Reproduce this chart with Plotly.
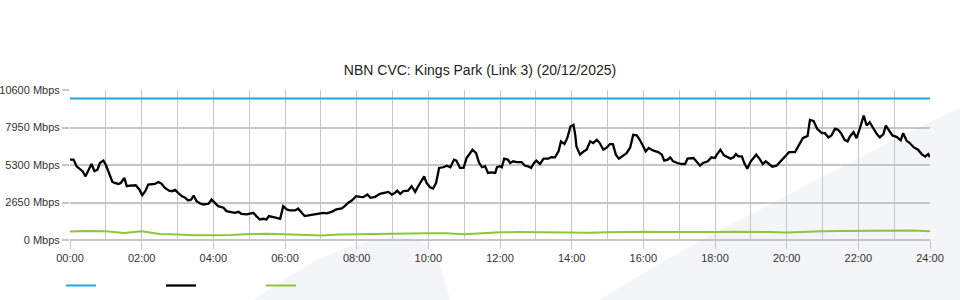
import plotly.graph_objects as go

# ---------------- data ----------------
title_text = "NBN CVC: Kings Park (Link 3) (20/12/2025)"

capacity_min = [0, 1440]
capacity_mbps = [10000, 10000]

black_min = [0, 6, 11, 17, 21, 26, 31, 36, 41, 46, 50, 56, 60, 64, 71, 75, 81, 85, 91, 95,
             100, 110, 116, 121, 126, 131, 138, 142, 148, 153, 159, 166, 171, 176, 181, 187,
             193, 198, 203, 207, 212, 218, 223, 232, 237, 243, 248, 257, 262, 268, 276, 282,
             287, 296, 301, 307, 312, 318, 324, 329, 333, 340, 346, 352,
             357, 363, 368, 377, 382, 388, 393, 402, 410, 419, 424, 430, 438, 446, 455, 460,
             466, 472, 479, 486, 491, 498, 503, 511, 519, 526, 533, 539, 544, 548, 553, 558,
             566, 572, 578, 583, 589, 593, 597, 603, 608, 613, 618, 625, 631, 637, 643, 647,
             653, 659, 664, 670, 674, 680, 685, 690, 695, 700, 706, 712, 715, 720,
             723, 727, 733, 737, 742, 748, 756, 762, 767, 772, 777, 781, 787, 793, 801, 806,
             812, 818, 822, 828, 833, 838, 843, 846, 848, 854, 860, 865, 871, 876, 882, 887,
             893, 899, 904, 909, 914, 919, 925, 932, 938, 943, 949, 954, 960, 964, 969, 977,
             985, 991, 995, 1001, 1005, 1010, 1017, 1024, 1030, 1034, 1044, 1049, 1055, 1060,
             1068, 1074, 1080,
             1083, 1089, 1095, 1101, 1106, 1111, 1115, 1119, 1125, 1129, 1134, 1140, 1149,
             1155, 1160, 1165, 1171, 1176, 1183, 1190, 1197, 1204, 1214, 1221, 1227, 1235,
             1239, 1245, 1251, 1259, 1264, 1270, 1275, 1281, 1286, 1291, 1297, 1302, 1306,
             1312, 1317, 1323, 1329, 1334, 1339, 1345, 1351, 1356, 1362, 1366, 1372, 1377,
             1384, 1391, 1395, 1401, 1406, 1413, 1420, 1426, 1432, 1437, 1440]

black_mbps = [5680, 5680, 5210, 4970, 4860, 4500, 4970, 5370, 4860, 4970, 5440, 5610, 5320, 4860,
              4100, 4030, 3960, 4030, 4390, 3800, 3850, 3870, 3570, 3170, 3450, 3920, 3920, 3960,
              4100, 3990, 3680, 3490, 3450, 3540, 3330, 3100, 2980, 2790, 2860, 3140, 2740, 2580,
              2510, 2560, 2860, 2630, 2390, 2280, 2040, 1990, 1920, 1990, 1850, 1810, 1850, 1920,
              1690, 1450, 1500, 1450, 1690, 1640, 1570, 1500,
              2390, 2160, 2090, 2090, 2230, 1920, 1690, 1760, 1810, 1850, 1920, 1880, 1990, 2160,
              2230, 2390, 2630, 2790, 3100, 3050, 3030, 3210, 2980, 3050, 3260, 3330, 3400, 3210,
              3330, 3490, 3260, 3450, 3490, 3800, 3400, 3800, 4270, 4500, 4030, 3730, 3640, 4030,
              5090, 5140, 5250, 5140, 5680, 5610, 5090, 5090, 5790, 6190, 6380, 6140, 5440, 5140,
              5210, 4740, 4780, 4740, 5140, 5210,
              5140, 5750, 5680, 5440, 5560, 5510, 5510, 5250, 5210, 5090, 5440, 5610, 5370, 5750,
              5750, 5860, 5840, 6260, 6970, 6780, 7250, 8020, 8140, 7430, 6610, 6030, 6260, 6380,
              6970, 6850, 7080, 6850, 6380, 6540, 6780, 6780, 6030, 5750, 5910, 6140, 6540, 7430,
              7390, 7080, 6610, 6260, 6500, 6310, 6210, 6030, 5610, 5680, 5840, 5560, 5440, 5370,
              5370, 5750, 5790, 5560, 5250, 5440, 5560, 5840, 5790,
              6030, 6380, 5980, 5840, 5750, 5840, 6070, 5910, 5910, 5440, 5040, 5560, 6030, 5720,
              5370, 5560, 5370, 5180, 5250, 5560, 5910, 6210, 6210, 6780, 7200, 7360, 8490, 8420,
              7860, 7550, 7550, 7250, 7390, 7860, 7790, 7550, 7080, 6970, 7320, 7620, 7200, 7950,
              8790, 8090, 8330, 7900, 7480, 7250, 7480, 8090, 7720, 7390, 7290, 7040, 7550, 7010,
              6850, 6540, 6380, 6070, 5890, 6070, 5860]

green_min = [i * 30 for i in range(49)]
green_mbps = [600, 640, 620, 500, 620, 420, 380, 330, 340, 350, 420, 440, 400, 330, 310, 380,
              400, 430, 480, 470, 480, 470, 400, 480, 550, 560, 540, 560, 550, 520, 540, 580,
              590, 570, 550, 560, 560, 590, 590, 560, 530, 600, 620, 630, 650, 660, 710, 680, 610]

x_tick_vals = [0, 120, 240, 360, 480, 600, 720, 840, 960, 1080, 1200, 1320, 1440]
x_tick_text = ["00:00", "02:00", "04:00", "06:00", "08:00", "10:00", "12:00",
               "14:00", "16:00", "18:00", "20:00", "22:00", "24:00"]
y_tick_vals = [0, 2650, 5300, 7950, 10600]
y_tick_text = [f"{v} Mbps" for v in y_tick_vals]

# ---------------- layout constants ----------------
W, H = 960, 300
L, R, T, B = 70, 30, 90, 60
PW, PH = W - L - R, H - T - B
FONT = "Liberation Sans, Arial, sans-serif"
GRID = "#c6c6c6"
WM = "#f4f5f7"


def to_paper(pts):
    segs = []
    for i, (x, y) in enumerate(pts):
        xp = (x - L) / PW
        yp = (H - B - y) / PH
        segs.append(("M" if i == 0 else "L") + f"{xp:.4f},{yp:.4f}")
    return " ".join(segs) + " Z"


wm_right = [(599, 300), (640, 275), (680, 252), (720, 230), (765, 207), (810, 183),
            (850, 163), (890, 142), (930, 122), (960, 108), (960, 300)]
wm_left = [(253, 300), (290, 276), (317, 260), (345, 248), (372, 240), (395, 237),
           (412, 238), (425, 243), (434, 252), (440, 266), (445, 282), (450, 300)]

fig = go.Figure()
fig.add_trace(go.Scatter(x=capacity_min, y=capacity_mbps, mode="lines", name=" ",
                         line=dict(color="#22a6e2", width=2)))
fig.add_trace(go.Scatter(x=black_min, y=black_mbps, mode="lines", name=" ",
                         line=dict(color="#000000", width=2.3)))
fig.add_trace(go.Scatter(x=green_min, y=green_mbps, mode="lines", name=" ",
                         line=dict(color="#8cc63f", width=2)))

fig.update_layout(
    width=W, height=H,
    margin=dict(l=L, r=R, t=T, b=B, pad=0, autoexpand=False),
    paper_bgcolor="white",
    plot_bgcolor="rgba(0,0,0,0)",
    font=dict(family=FONT, size=11, color="#333"),
    title=dict(text=title_text, x=0.5, xanchor="center", y=1 - 70 / H, yanchor="middle",
               font=dict(family=FONT, size=14, color="#222")),
    showlegend=True,
    legend=dict(orientation="h", xref="container", yref="container",
                x=61 / W, xanchor="left", y=1 - 271 / H, yanchor="top",
                entrywidth=55, entrywidthmode="pixels",
                bgcolor="rgba(0,0,0,0)", font=dict(size=11)),
    shapes=[
        dict(type="path", path=to_paper(wm_right), xref="paper", yref="paper",
             fillcolor=WM, line=dict(width=0), layer="below"),
        dict(type="path", path=to_paper(wm_left), xref="paper", yref="paper",
             fillcolor=WM, line=dict(width=0), layer="below"),
    ],
)

fig.update_xaxes(
    range=[0, 1440], tickvals=x_tick_vals, ticktext=x_tick_text, automargin=False,
    showgrid=True, gridcolor=GRID, gridwidth=1,
    minor=dict(dtick=60, tick0=0, showgrid=True, gridcolor=GRID, gridwidth=1, ticks=""),
    ticks="outside", ticklen=8, tickcolor=GRID, tickwidth=1,
    showline=False, zeroline=False, fixedrange=True,
    tickfont=dict(family=FONT, size=11, color="#333"),
)
fig.update_yaxes(
    range=[0, 10600], tickvals=y_tick_vals, ticktext=y_tick_text, automargin=False,
    showgrid=True, gridcolor=GRID, gridwidth=2,
    ticks="outside", ticklen=7, tickcolor=GRID, tickwidth=2,
    showline=False, zeroline=True, zerolinecolor=GRID, zerolinewidth=2, fixedrange=True,
    tickfont=dict(family=FONT, size=11, color="#333"),
)

fig.write_html("out.html", config={"displayModeBar": False})
